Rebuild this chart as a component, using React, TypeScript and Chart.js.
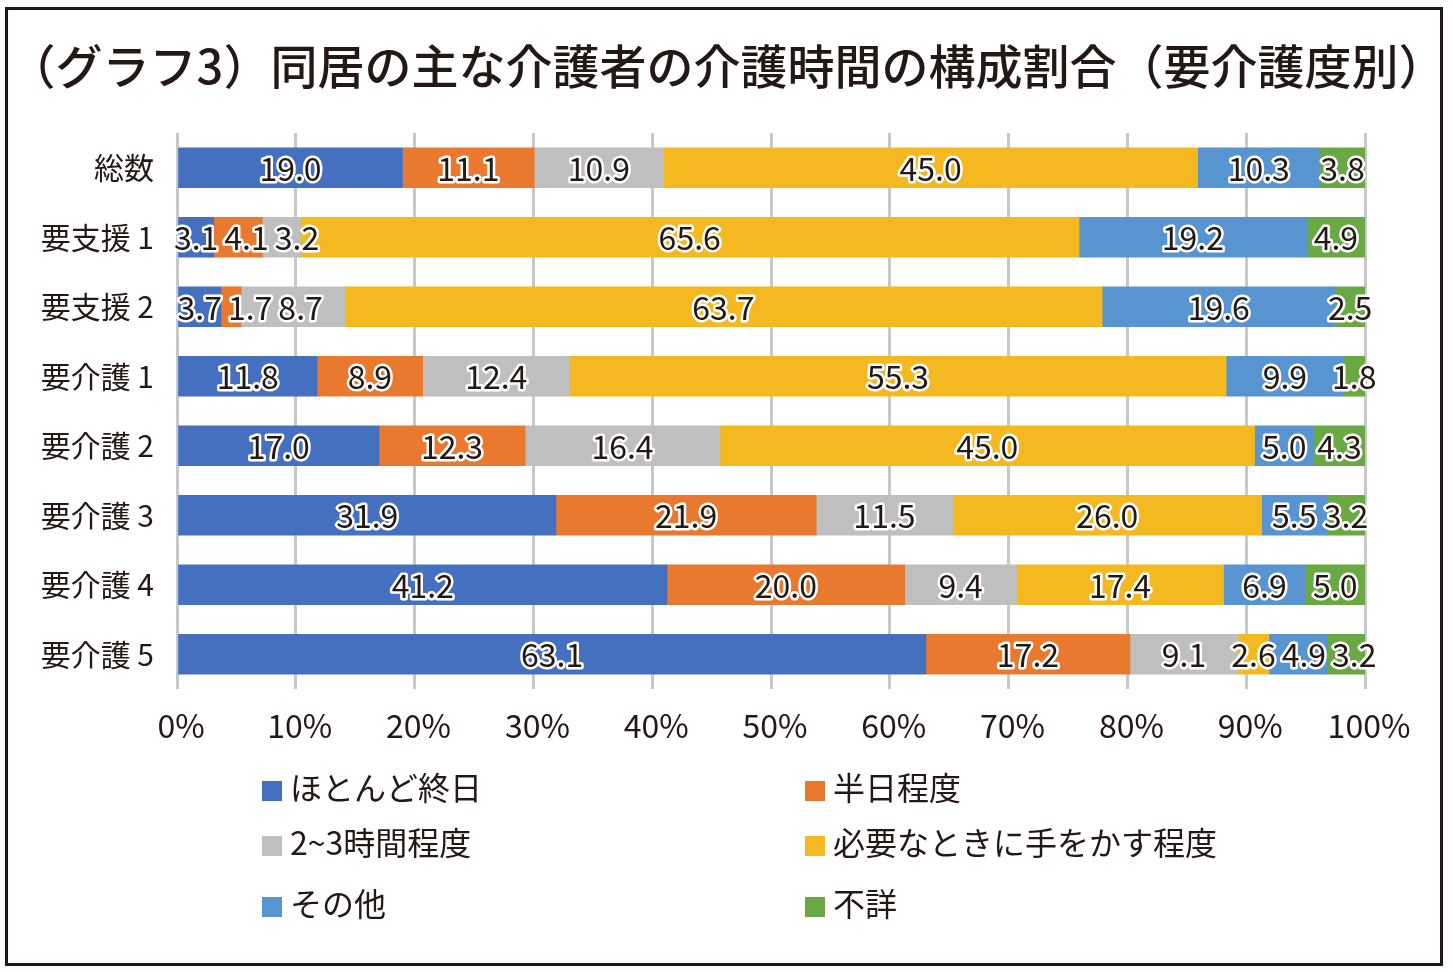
import React, { useEffect, useRef } from "react";
import { Chart, registerables } from "chart.js";

Chart.register(...registerables);

const titleText = "（グラフ3）同居の主な介護者の介護時間の構成割合（要介護度別）";
const categories = ["総数", "要支援 1", "要支援 2", "要介護 1", "要介護 2", "要介護 3", "要介護 4", "要介護 5"];
const seriesNames = ["ほとんど終日", "半日程度", "2~3時間程度", "必要なときに手をかす程度", "その他", "不詳"];
const seriesColors = ["#4470BF", "#E8792F", "#BFBFBF", "#F4B920", "#5894CF", "#6AA844"];

const allDay = [19.0, 3.1, 3.7, 11.8, 17.0, 31.9, 41.2, 63.1];
const halfDay = [11.1, 4.1, 1.7, 8.9, 12.3, 21.9, 20.0, 17.2];
const twoThreeHours = [10.9, 3.2, 8.7, 12.4, 16.4, 11.5, 9.4, 9.1];
const asNeeded = [45.0, 65.6, 63.7, 55.3, 45.0, 26.0, 17.4, 2.6];
const other = [10.3, 19.2, 19.6, 9.9, 5.0, 5.5, 6.9, 4.9];
const unknown = [3.8, 4.9, 2.5, 1.8, 4.3, 3.2, 5.0, 3.2];

const xTicks = [0, 10, 20, 30, 40, 50, 60, 70, 80, 90, 100];

const series = [allDay, halfDay, twoThreeHours, asNeeded, other, unknown];

const FONT = '"Noto Sans CJK JP", "Noto Sans", sans-serif';
const TEXT = "#231815";

const W = 1454;
const H = 974;

export default function App() {
  const ref = useRef<HTMLCanvasElement | null>(null);

  useEffect(() => {
    if (!ref.current) return;
    const totals = categories.map((_, i) => series.reduce((s, arr) => s + arr[i], 0));

    const labelPlugin = {
      id: "barLabels",
      afterDatasetsDraw(chart: any) {
        const ctx = chart.ctx;
        ctx.save();
        ctx.font = `32px ${FONT}`;
        ctx.textAlign = "center";
        ctx.textBaseline = "middle";
        ctx.lineJoin = "round";
        const gap = 6;
        for (let i = 0; i < categories.length; i++) {
          let prevRight = -Infinity;
          for (let d = 0; d < series.length; d++) {
            const el = chart.getDatasetMeta(d).data[i];
            const { x, y, base } = el.getProps(["x", "y", "base"], true);
            const text = series[d][i].toFixed(1);
            const w = ctx.measureText(text).width;
            let cx = (x + base) / 2;
            if (cx - w / 2 < prevRight + gap) cx = prevRight + gap + w / 2;
            prevRight = cx + w / 2;
            ctx.lineWidth = 5;
            ctx.strokeStyle = "#ffffff";
            ctx.strokeText(text, cx, y + 1);
            ctx.fillStyle = TEXT;
            ctx.fillText(text, cx, y + 1);
          }
        }
        ctx.restore();
      },
    };

    const decorPlugin = {
      id: "decor",
      afterDraw(chart: any) {
        const ctx = chart.ctx;
        ctx.save();
        // frame
        ctx.strokeStyle = TEXT;
        ctx.lineWidth = 3;
        ctx.strokeRect(6.5, 8.5, 1435, 956);
        // title
        ctx.fillStyle = TEXT;
        ctx.font = `500 47px ${FONT}`;
        ctx.textAlign = "center";
        ctx.textBaseline = "middle";
        ctx.fillText(titleText, 727, 66);
        // legend
        const colX = [262, 805];
        const rowY = [788, 843, 904];
        ctx.font = `32px ${FONT}`;
        ctx.textAlign = "left";
        seriesNames.forEach((name, k) => {
          const cx = colX[k % 2];
          const cy = rowY[Math.floor(k / 2)];
          ctx.fillStyle = seriesColors[k];
          ctx.fillRect(cx, cy - 7, 20, 20);
          ctx.fillStyle = TEXT;
          ctx.fillText(name, cx + 28, cy);
        });
        ctx.restore();
      },
    };

    const chart = new Chart(ref.current, {
      type: "bar",
      data: {
        labels: categories,
        datasets: series.map((arr, d) => ({
          label: seriesNames[d],
          data: arr.map((v, i) => (v / totals[i]) * 100),
          backgroundColor: seriesColors[d],
          borderWidth: 0,
          barThickness: 40,
        })),
      },
      options: {
        indexAxis: "y",
        responsive: false,
        animation: false,
        layout: { padding: { left: 10, right: 89, top: 133, bottom: 225 } },
        plugins: {
          legend: { display: false },
          tooltip: { enabled: false },
          title: { display: false },
        },
        scales: {
          x: {
            type: "linear",
            stacked: true,
            min: 0,
            max: 100,
            afterBuildTicks: (scale: any) => {
              scale.ticks = xTicks.map((v) => ({ value: v }));
            },
            afterFit: (scale: any) => {
              scale.height = 60;
            },
            ticks: {
              callback: (v: any) => `${v}%`,
              font: { family: FONT, size: 32 },
              color: TEXT,
              padding: 18,
              labelOffset: 4,
              maxRotation: 0,
              autoSkip: false,
            },
            grid: { color: "#C8C8C8", lineWidth: 3, drawTicks: false },
            border: { display: false },
          },
          y: {
            stacked: true,
            afterFit: (scale: any) => {
              scale.width = 167;
            },
            ticks: {
              font: { family: FONT, size: 30 },
              color: TEXT,
              padding: 15,
            },
            grid: { display: false },
            border: { display: false },
          },
        },
      },
      plugins: [labelPlugin, decorPlugin],
    } as any);
    return () => chart.destroy();
  }, []);

  return (
    <div style={{ position: "absolute", left: 0, top: 0, width: W, height: H, background: "#fff" }}>
      <canvas ref={ref} width={W} height={H} style={{ display: "block" }} />
    </div>
  );
}
